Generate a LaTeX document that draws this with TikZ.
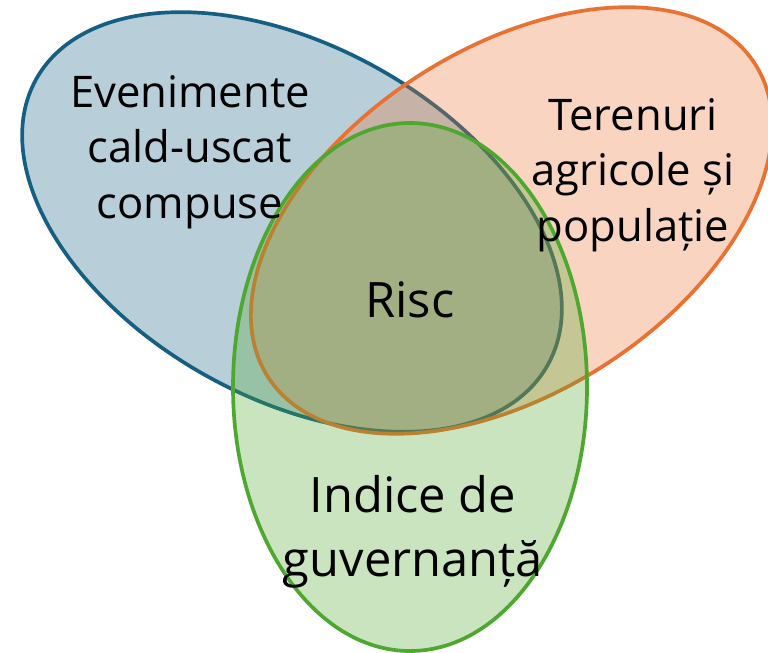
\documentclass[tikz,border=0pt]{standalone}
\usepackage{fontspec}
\setmainfont{Open Sans}
\usetikzlibrary{shapes.geometric}
\definecolor{heatblue}{HTML}{156082}
\definecolor{landorange}{HTML}{E97132}
\definecolor{govgreen}{HTML}{4EA72E}
\begin{document}
\begin{tikzpicture}[vset/.style={ellipse, draw=#1, fill=#1, fill opacity=0.3, line width=2.1pt, inner sep=0pt},
    lbl/.style={align=center, font=\fontsize{24.8}{31.5}\selectfont, inner sep=0pt},
    biglbl/.style={align=center, font=\fontsize{27.8}{36.3}\selectfont, inner sep=0pt}]
    \useasboundingbox (0,0) rectangle (15.36,13.04);
    % the three sets
    \node[vset=heatblue, minimum width=11.72cm, minimum height=7.04cm, rotate=-29.2] (heat) at (5.84,8.60) {};
    \node[vset=landorange, minimum width=11.58cm, minimum height=6.88cm, rotate=32.8] (land) at (10.23,8.63) {};
    \node[vset=govgreen, minimum width=7.08cm, minimum height=10.56cm] (gov) at (8.20,5.30) {};
    % labels
    \node[lbl] (heattxt) at (3.80,10.00) {Evenimente\\cald-uscat\\compuse};
    \node[lbl] (landtxt) at (12.66,9.54) {Terenuri\\agricole și\\populație};
    \node[biglbl] (risk) at (8.20,7.05) {Risc};
    \node[biglbl] (govtxt) at (8.26,2.40) {Indice de\\guvernanță};
\end{tikzpicture}
\end{document}
